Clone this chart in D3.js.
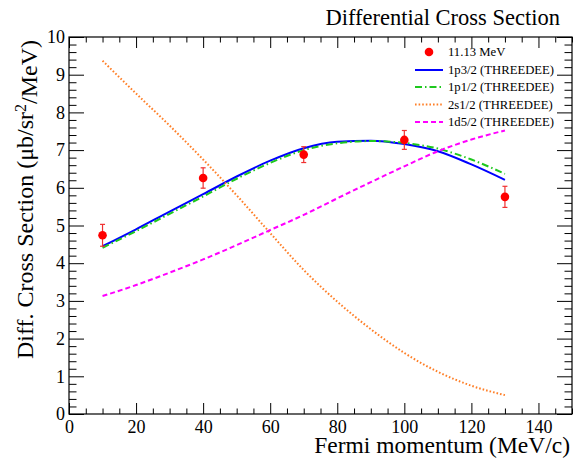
<!DOCTYPE html>
<html>
<head>
<meta charset="utf-8">
<script src="https://cdn.jsdelivr.net/npm/d3@7"></script>
<style>
  html, body { margin: 0; padding: 0; background: #fff; }
  svg text { font-family: "Liberation Serif", "Times New Roman", serif !important; fill: #000; }
</style>
</head>
<body>
<svg id="chart" width="581" height="461"></svg>
<script>
// Measured points at 11.13 MeV
const dataX = [10, 40, 70, 100, 130];
const dataY = [4.74, 6.26, 6.88, 7.27, 5.76];
const dataErr = [0.29, 0.27, 0.21, 0.25, 0.28];

// THREEDEE calculations
const curveX = [10, 20, 30, 40, 50, 60, 70, 80, 90, 100, 110, 120, 130];
const p32 = [4.45, 4.90, 5.37, 5.83, 6.30, 6.72, 7.05, 7.22, 7.25, 7.16, 6.97, 6.62, 6.21];
const p12 = [4.41, 4.85, 5.31, 5.77, 6.24, 6.66, 7.00, 7.18, 7.24, 7.19, 7.04, 6.75, 6.37];
const s12 = [9.37, 8.50, 7.65, 6.75, 5.80, 4.80, 3.82, 2.98, 2.25, 1.62, 1.12, 0.75, 0.50];
const d52 = [3.13, 3.42, 3.75, 4.10, 4.48, 4.88, 5.28, 5.72, 6.15, 6.57, 6.97, 7.28, 7.52];

const seriesNames = ["1p3/2 (THREEDEE)", "1p1/2 (THREEDEE)", "2s1/2 (THREEDEE)", "1d5/2 (THREEDEE)"];
const dataLabel = "11.13 MeV";

const xTicks = [0, 20, 40, 60, 80, 100, 120, 140];
const yTicks = [0, 1, 2, 3, 4, 5, 6, 7, 8, 9, 10];

const SERIF = "'Liberation Serif', 'Times New Roman', serif";
const frame = { left: 69, right: 572, top: 37, bottom: 414 };

const svg = d3.select("#chart");
const x = d3.scaleLinear().domain([0, 150]).range([frame.left, frame.right]);
const y = d3.scaleLinear().domain([0, 10]).range([frame.bottom, frame.top]);

const W = frame.right - frame.left, H = frame.bottom - frame.top;
const xMajor = 11, xMinor = 5.5, yMajor = 15, yMinor = 7.5;

// axes with ticks on all four sides
const xMinorTicks = d3.range(0, 150.01, 5).filter(v => v % 20 !== 0);
const yMinorTicks = d3.range(0, 10.001, 0.2).map(v => +v.toFixed(1)).filter(v => Math.abs(v - Math.round(v)) > 1e-6);

svg.append("g").attr("transform", `translate(0,${frame.bottom})`)
  .call(d3.axisBottom(x).tickValues(xTicks).tickSize(-xMajor).tickPadding(6).tickFormat(d3.format("d")));
svg.append("g").attr("transform", `translate(0,${frame.bottom})`)
  .call(d3.axisBottom(x).tickValues(xMinorTicks).tickSize(-xMinor).tickFormat(""));
svg.append("g").attr("transform", `translate(0,${frame.top})`)
  .call(d3.axisTop(x).tickValues(xTicks).tickSize(-xMajor).tickFormat(""));
svg.append("g").attr("transform", `translate(0,${frame.top})`)
  .call(d3.axisTop(x).tickValues(xMinorTicks).tickSize(-xMinor).tickFormat(""));

svg.append("g").attr("transform", `translate(${frame.left},0)`)
  .call(d3.axisLeft(y).tickValues(yTicks).tickSize(-yMajor).tickPadding(4).tickFormat(d3.format("d")));
svg.append("g").attr("transform", `translate(${frame.left},0)`)
  .call(d3.axisLeft(y).tickValues(yMinorTicks).tickSize(-yMinor).tickFormat(""));
svg.append("g").attr("transform", `translate(${frame.right},0)`)
  .call(d3.axisRight(y).tickValues(yTicks).tickSize(-yMajor).tickFormat(""));
svg.append("g").attr("transform", `translate(${frame.right},0)`)
  .call(d3.axisRight(y).tickValues(yMinorTicks).tickSize(-yMinor).tickFormat(""));

svg.selectAll(".domain").remove();
svg.selectAll("g").attr("font-family", SERIF);
svg.selectAll(".tick line").attr("stroke", "#000").attr("stroke-width", 1);
svg.selectAll(".tick text").attr("font-family", SERIF).style("font-size", "18px").attr("fill", "#000");

svg.append("rect")
  .attr("x", frame.left).attr("y", frame.top)
  .attr("width", W).attr("height", H)
  .attr("fill", "none").attr("stroke", "#000").attr("stroke-width", 1.2);

// theory curves
const line = d3.line().x((d, i) => x(curveX[i])).y(d => y(d)).curve(d3.curveMonotoneX);
const styles = [
  { data: p32, color: "#0000ff", dash: null },
  { data: p12, color: "#1ec81e", dash: "7 3 1.5 3" },
  { data: s12, color: "#ff7f27", dash: "1.6 2" },
  { data: d52, color: "#ff00ff", dash: "5 3" }
];
const plot = svg.append("g");
styles.forEach(s => {
  plot.append("path")
    .attr("d", line(s.data))
    .attr("fill", "none")
    .attr("stroke", s.color)
    .attr("stroke-width", 2)
    .attr("stroke-dasharray", s.dash);
});

// data with error bars
const pts = svg.append("g");
dataX.forEach((xv, i) => {
  const cx = x(xv), y0 = y(dataY[i] - dataErr[i]), y1 = y(dataY[i] + dataErr[i]);
  pts.append("line").attr("x1", cx).attr("x2", cx).attr("y1", y0).attr("y2", y1)
    .attr("stroke", "#f03030").attr("stroke-width", 1.2);
  [y0, y1].forEach(yy => pts.append("line")
    .attr("x1", cx - 2.5).attr("x2", cx + 2.5).attr("y1", yy).attr("y2", yy)
    .attr("stroke", "#f03030").attr("stroke-width", 1.2));
  pts.append("circle").attr("cx", cx).attr("cy", y(dataY[i])).attr("r", 4.3).attr("fill", "#ff0000");
});

// legend
const leg = svg.append("g").attr("font-family", SERIF);
const legX0 = 415, legX1 = 443, legText = 448;
const legY = [52, 70, 87, 104.5, 122];
leg.append("circle").attr("cx", (legX0 + legX1) / 2).attr("cy", legY[0]).attr("r", 4.3).attr("fill", "#ff0000");
leg.append("text").attr("x", legText).attr("y", legY[0]).attr("dy", "0.35em")
  .attr("font-family", SERIF).style("font-size", "12.7px").text(dataLabel);
styles.forEach((s, i) => {
  const yy = legY[i + 1];
  leg.append("line").attr("x1", legX0).attr("x2", legX1).attr("y1", yy).attr("y2", yy)
    .attr("stroke", s.color).attr("stroke-width", 2).attr("stroke-dasharray", s.dash);
  leg.append("text").attr("x", legText).attr("y", yy).attr("dy", "0.35em")
    .attr("font-family", SERIF).style("font-size", "12.7px").text(seriesNames[i]);
});

// titles
svg.append("text").attr("x", 560).attr("y", 25).attr("text-anchor", "end")
  .attr("font-family", SERIF).style("font-size", "22.5px").text("Differential Cross Section");

svg.append("text").attr("x", 570).attr("y", 453).attr("text-anchor", "end")
  .attr("font-family", SERIF).style("font-size", "23.5px").text("Fermi momentum (MeV/c)");

const yt = svg.append("text")
  .attr("transform", "translate(33,40) rotate(-90)")
  .attr("text-anchor", "end")
  .attr("font-family", SERIF)
  .style("font-size", "24px");
yt.append("tspan").text("Diff. Cross Section (\u03bcb/sr");
yt.append("tspan").attr("dy", "-0.45em").style("font-size", "16px").text("2");
yt.append("tspan").attr("dy", "0.45em").text("/MeV)");
</script>
</body>
</html>
